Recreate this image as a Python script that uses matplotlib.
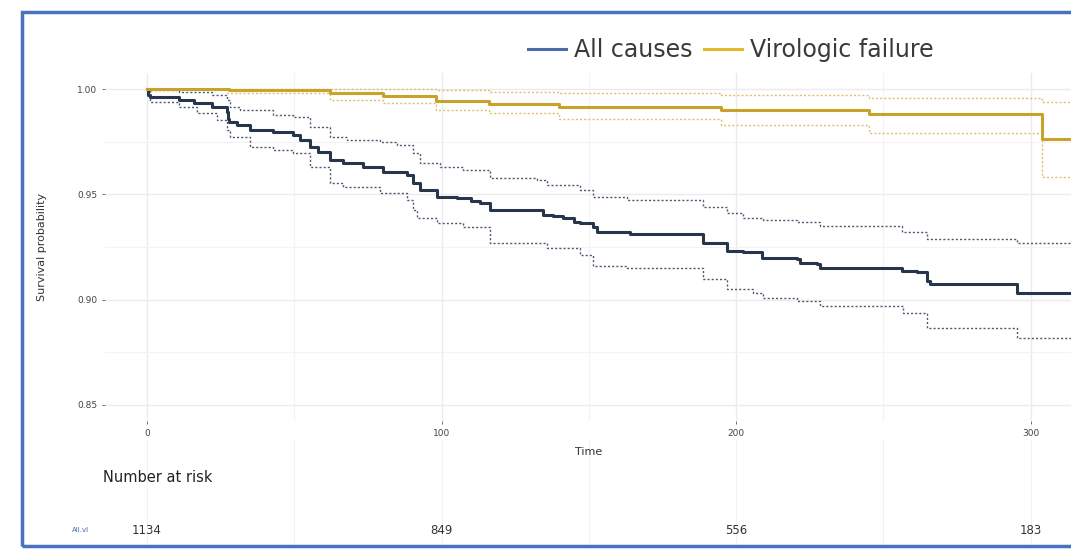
import matplotlib
matplotlib.use("Agg")
import matplotlib.pyplot as plt
from matplotlib.lines import Line2D
from matplotlib.patches import Rectangle
from matplotlib.transforms import blended_transform_factory

# Kaplan-Meier estimates (step start times and survival levels)
all_t = [0, 0.5, 1, 11, 16, 22, 27, 27.5, 28, 30.6, 35, 42.8, 49.6, 52, 55.3, 58,
         62.1, 66.6, 73.3, 80.1, 88.3, 90.3, 92.7, 98.5, 105.3, 110, 113.1, 116.5,
         134.5, 138, 141.3, 145, 147, 151.4, 152.8, 164, 188.8, 192, 196.9, 202.4,
         208.8, 220.7, 221.7, 227.5, 228.5, 256.4, 261.5, 264.9, 265.9, 295.4, 330]
all_s = [1.000, 0.9971, 0.9962, 0.9948, 0.9933, 0.9914, 0.9890, 0.9860, 0.9843, 0.9829,
         0.9805, 0.9795, 0.9781, 0.9760, 0.9724, 0.9700, 0.9662, 0.9648, 0.9629, 0.9605,
         0.9590, 0.9552, 0.9519, 0.9486, 0.9481, 0.9470, 0.9457, 0.9424, 0.9400, 0.9395,
         0.9386, 0.9370, 0.9362, 0.9343, 0.9319, 0.9314, 0.9271, 0.9267, 0.9233, 0.9224,
         0.9200, 0.9195, 0.9176, 0.9171, 0.9152, 0.9138, 0.9129, 0.9090, 0.9076, 0.9033,
         0.9033]

all_up_t = [0, 1, 11, 22, 27.2, 28.2, 31.6, 42.8, 49.6, 55.3, 62.1, 67.9, 79.1, 85.0,
            90.3, 92.7, 99.5, 107.3, 116.5, 132.4, 135.8, 147, 151.4, 163, 188.8,
            197, 202.4, 209.1, 220.7, 228.5, 256.4, 264.9, 295.4, 330]
all_up_s = [1.000, 0.9995, 0.9986, 0.9971, 0.9948, 0.9914, 0.9900, 0.9876, 0.9867,
            0.9819, 0.9771, 0.9757, 0.9748, 0.9733, 0.9695, 0.9648, 0.9629, 0.9614,
            0.9576, 0.9567, 0.9543, 0.9519, 0.9486, 0.9471, 0.9438, 0.9410, 0.9390,
            0.9376, 0.9367, 0.9352, 0.9320, 0.9290, 0.9267, 0.9267]

all_lo_t = [0, 1, 11, 16.9, 23.8, 27.2, 28.2, 35.0, 42.8, 49.6, 55.3, 62.1, 66.6,
            79.1, 88.3, 90.3, 91.7, 98.5, 107.3, 116.5, 132.4, 135.8, 147, 151.4,
            163, 188.8, 196.9, 205.7, 209.1, 220.7, 228.5, 256.7, 264.9, 295.4, 330]
all_lo_s = [1.000, 0.9938, 0.9914, 0.9886, 0.9852, 0.9805, 0.9771, 0.9724, 0.9710,
            0.9695, 0.9629, 0.9552, 0.9533, 0.9505, 0.9471, 0.9424, 0.9390, 0.9362,
            0.9343, 0.9271, 0.9267, 0.9243, 0.9210, 0.9162, 0.9148, 0.9100, 0.9052,
            0.9033, 0.9010, 0.8995, 0.8971, 0.8938, 0.8867, 0.8819, 0.8819]

vf_t = [0, 28, 62, 80, 98, 116, 140, 195, 245, 304, 330]
vf_s = [1.000, 0.9995, 0.9981, 0.9967, 0.9943, 0.9929, 0.9914, 0.9900, 0.9881,
        0.9762, 0.9762]
vf_up_t = [0, 62, 98, 116, 140, 195, 245, 304, 330]
vf_up_s = [1.000, 0.9998, 0.9995, 0.9986, 0.9981, 0.9971, 0.9957, 0.9938, 0.9938]
vf_lo_t = [0, 27, 62, 80, 98, 116, 140, 195, 245, 304, 330]
vf_lo_s = [1.000, 0.9981, 0.9948, 0.9933, 0.9900, 0.9886, 0.9860, 0.9829, 0.9790,
           0.9581, 0.9581]

x_ticks = [0, 100, 200, 300]
x_tick_labels = ["0", "100", "200", "300"]
y_ticks = [0.85, 0.90, 0.95, 1.00]
y_tick_labels = ["0.85", "0.90", "0.95", "1.00"]
risk_times = [0, 100, 200, 300]
risk_counts = [1134, 849, 556, 183]
risk_strata = "All.vl"
legend_labels = ["All causes", "Virologic failure"]

col_all = "#27364d"
col_all_ci = "#4b5a70"
col_vf = "#c9a22c"
col_vf_ci = "#dcc06e"
col_legend_all = "#4a6aa8"
col_legend_vf = "#e3b82e"
grid_col = "#ebebeb"

W, H = 1071, 549
fig = plt.figure(figsize=(W / 100, H / 100), dpi=100)
fig.patch.set_facecolor("white")

def fx(px):
    return px / W

def fy(py):
    return 1 - py / H

# main survival panel
left_px, right_px, top_px, bot_px = 105, 1071, 73, 421
ax = fig.add_axes([fx(left_px), fy(bot_px), fx(right_px - left_px), (bot_px - top_px) / H])
px_per_t = 2.945
ax.set_xlim((left_px - 147) / px_per_t, (right_px - 147) / px_per_t)
ax.set_ylim(0.85 - 16 / 2100, 1.0 + 16 / 2100)
for s in ax.spines.values():
    s.set_visible(False)

ax.set_xticks(x_ticks)
ax.set_xticklabels(x_tick_labels)
ax.set_yticks(y_ticks)
ax.set_yticklabels(y_tick_labels)
ax.set_xticks([50, 150, 250], minor=True)
ax.set_yticks([0.875, 0.925, 0.975], minor=True)
ax.tick_params(axis="both", which="major", labelsize=6.5, length=2.5, width=0.6,
               color="#555555", labelcolor="#444444", pad=3)
ax.tick_params(axis="both", which="minor", length=0)
ax.grid(True, which="major", color=grid_col, lw=1.0)
ax.grid(True, which="minor", color="#f3f3f3", lw=0.8)
ax.set_axisbelow(True)

ax.step(all_up_t, all_up_s, where="post", color=col_all_ci, lw=1.0, ls=(0, (1.5, 1.5)))
ax.step(all_lo_t, all_lo_s, where="post", color=col_all_ci, lw=1.0, ls=(0, (1.5, 1.5)))
ax.step(vf_up_t, vf_up_s, where="post", color=col_vf_ci, lw=1.0, ls=(0, (1.5, 1.5)))
ax.step(vf_lo_t, vf_lo_s, where="post", color=col_vf_ci, lw=1.0, ls=(0, (1.5, 1.5)))
ax.step(all_t, all_s, where="post", color=col_all, lw=2.2)
ax.step(vf_t, vf_s, where="post", color=col_vf, lw=2.2)

fig.text(fx(589), fy(452), "Time", fontsize=8, color="#333333", ha="center", va="center")
fig.text(fx(42), fy(247), "Survival probability", fontsize=8, color="#333333",
         rotation=90, ha="center", va="center")

# risk table
rax = fig.add_axes([fx(left_px), 0, fx(right_px - left_px), fy(440)])
rax.set_xlim(ax.get_xlim())
rax.set_ylim(0, 1)
for s in rax.spines.values():
    s.set_visible(False)
rax.set_xticks(x_ticks)
rax.set_xticks([50, 150, 250], minor=True)
rax.set_yticks([])
rax.tick_params(axis="x", which="both", length=0, labelbottom=False)
rax.grid(True, axis="x", which="both", color="#f2f2f2", lw=0.8)
rax.patch.set_alpha(0)

trans = blended_transform_factory(rax.transData, fig.transFigure)
for t, n in zip(risk_times, risk_counts):
    rax.text(t, fy(530), str(n), transform=trans, fontsize=8.5, color="#333333",
             ha="center", va="center")
fig.text(fx(103), fy(478), "Number at risk", fontsize=10.5, color="#222222",
         ha="left", va="center")
fig.text(fx(80), fy(530), risk_strata, fontsize=5, color=col_legend_all,
         ha="center", va="center")

# legend
handles = [Line2D([], [], color=col_legend_all, lw=2.2),
           Line2D([], [], color=col_legend_vf, lw=2.2)]
fig.legend(handles, legend_labels, loc="center", bbox_to_anchor=(fx(731), fy(50)),
           ncol=2, frameon=False, handlelength=1.6, handletextpad=0.35,
           columnspacing=0.5, prop={"family": "DejaVu Sans", "size": 17},
           labelcolor="#3a3a3a")

# outer frame
fig.patches.append(Rectangle((fx(22), fy(546)), 2.0, fy(12) - fy(546),
                             transform=fig.transFigure, fill=False,
                             edgecolor="#4a72c0", lw=2.5, zorder=10))

fig.savefig("out.png", dpi=100, facecolor="white")
